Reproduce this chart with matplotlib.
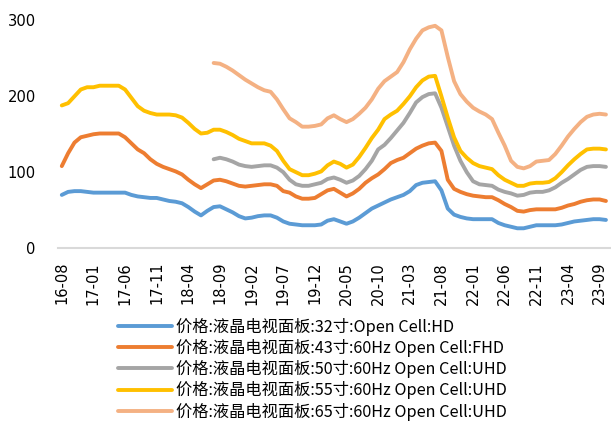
import pandas as pd
import matplotlib.pyplot as plt

plt.rcParams['font.family'] = ['Noto Sans CJK SC', 'DejaVu Sans']

# 月度数据 16-08 ~ 23-10
months = pd.period_range('2016-08', periods=87, freq='M').strftime('%y-%m').tolist()

p32 = [70, 74, 75, 75, 74, 73, 73, 73, 73, 73,
       73, 70, 68, 67, 66, 66, 64, 62, 61, 59,
       54, 48, 43, 49, 54, 55, 51, 47, 42, 39,
       40, 42, 43, 43, 40, 35, 32, 31, 30, 30,
       30, 31, 36, 38, 35, 32, 35, 40, 46, 52,
       56, 60, 64, 67, 70, 75, 83, 86, 87, 88,
       76, 52, 44, 41, 39, 38, 38, 38, 38, 33,
       30, 28, 26, 26, 28, 30, 30, 30, 30, 31,
       33, 35, 36, 37, 38, 38, 37]

p43 = [108, 125, 139, 146, 148, 150, 151, 151, 151, 151,
       146, 138, 130, 125, 117, 111, 107, 104, 101, 97,
       90, 84, 79, 84, 89, 90, 88, 85, 82, 81,
       82, 83, 84, 84, 82, 75, 73, 68, 65, 65,
       66, 71, 76, 78, 73, 68, 72, 78, 86, 92,
       97, 104, 112, 116, 119, 125, 131, 135, 138, 139,
       128, 90, 78, 74, 71, 69, 68, 67, 67, 63,
       58, 54, 49, 48, 50, 51, 51, 51, 51, 53,
       56, 58, 61, 63, 64, 64, 62]

p50 = [None] * 24 + [
       117, 119, 117, 114, 110, 108,
       107, 108, 109, 109, 106, 100, 90, 84, 82, 82,
       84, 86, 91, 93, 90, 86, 89, 95, 104, 115,
       130, 136, 145, 155, 165, 178, 192, 199, 203, 204,
       185, 160, 135, 115, 100, 88, 84, 83, 82, 77,
       74, 72, 69, 70, 73, 74, 74, 76, 80, 86,
       91, 97, 103, 107, 108, 108, 107]

p55 = [188, 191, 200, 209, 212, 212, 214, 214, 214, 214,
       209, 198, 187, 181, 178, 176, 176, 176, 175, 172,
       165, 157, 151, 152, 156, 156, 153, 149, 144, 141,
       138, 138, 138, 135, 128, 115, 104, 100, 96, 96,
       98, 101, 109, 114, 111, 106, 110, 120, 132, 145,
       156, 170, 176, 181, 190, 200, 212, 221, 226, 227,
       200, 172, 146, 128, 119, 112, 108, 106, 104, 96,
       90, 86, 82, 82, 85, 86, 86, 87, 92, 100,
       109, 117, 124, 130, 131, 131, 130]

p65 = [None] * 24 + [
       244, 243, 239, 234, 228, 222,
       217, 212, 208, 206, 196, 183, 171, 166, 160, 160,
       161, 163, 171, 175, 170, 166, 170, 177, 185, 196,
       210, 220, 226, 232, 245, 262, 276, 287, 291, 293,
       287, 252, 220, 203, 193, 185, 180, 176, 170, 152,
       135, 115, 107, 105, 108, 114, 115, 116, 124, 135,
       147, 157, 166, 173, 176, 177, 176]

labels = ['价格:液晶电视面板:32寸:Open Cell:HD',
          '价格:液晶电视面板:43寸:60Hz Open Cell:FHD',
          '价格:液晶电视面板:50寸:60Hz Open Cell:UHD',
          '价格:液晶电视面板:55寸:60Hz Open Cell:UHD',
          '价格:液晶电视面板:65寸:60Hz Open Cell:UHD']
colors = ['#5B9BD5', '#ED7D31', '#A5A5A5', '#FFC000', '#F4B183']

fig = plt.figure(figsize=(6.11, 4.21), dpi=100)
ax = fig.add_axes([58 / 611, 1 - 248 / 421, 1 - 58 / 611, (248 - 20.5) / 421])

x = list(range(len(months)))
for ys, lab, c in zip([p32, p43, p50, p55, p65], labels, colors):
    vals = [float('nan') if v is None else v for v in ys]
    ax.plot(x, vals, color=c, lw=2.8, label=lab, solid_capstyle='round')

ax.set_xlim(-0.6, 86.8)
ax.set_ylim(0, 300)
ax.set_yticks([0, 100, 200, 300])
ax.set_xticks(x[::5])
ax.set_xticklabels(months[::5], rotation=90, fontsize=10.5, family='DejaVu Sans')
for t in ax.get_yticklabels():
    t.set_family('DejaVu Sans')
ax.tick_params(axis='y', length=0, pad=16, labelsize=10.6)
ax.tick_params(axis='x', length=0, pad=10)
for s in ['top', 'right', 'left']:
    ax.spines[s].set_visible(False)
ax.spines['bottom'].set_color('#D9D9D9')
ax.spines['bottom'].set_linewidth(1.5)

fig.legend(loc='upper left', bbox_to_anchor=(118 / 611, 1 - 317.5 / 421),
           frameon=False, fontsize=11.7, handlelength=3.3, handletextpad=0.3,
           labelspacing=0.2, borderpad=0, borderaxespad=0)

fig.savefig('out.png', dpi=100)
